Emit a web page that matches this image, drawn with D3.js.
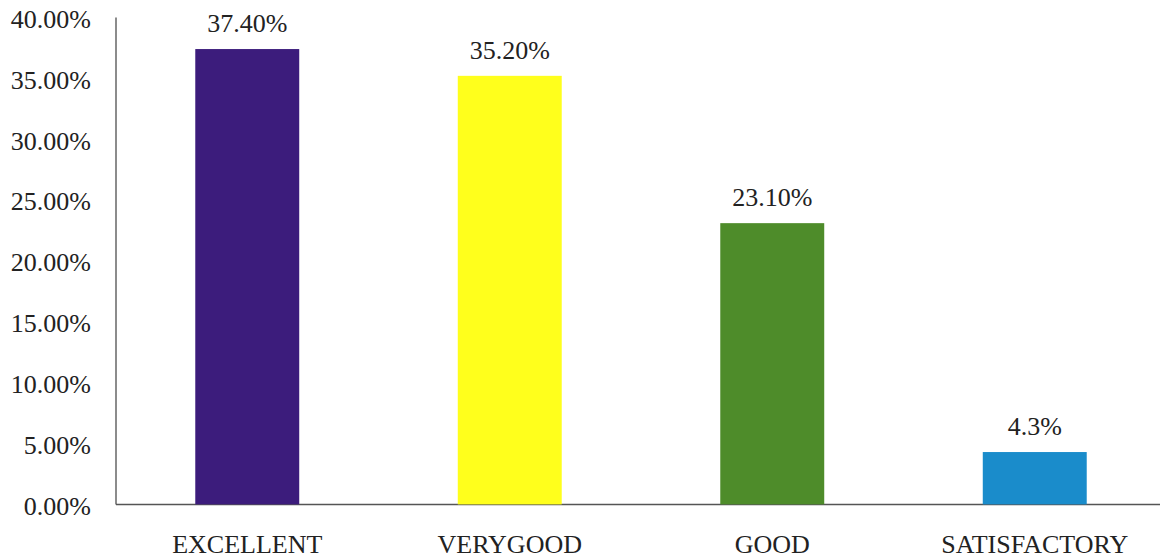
<!DOCTYPE html>
<html>
<head>
<meta charset="utf-8">
<script src="https://cdn.jsdelivr.net/npm/d3@7"></script>
<style>
  html, body { margin: 0; padding: 0; background: #ffffff; }
  svg { display: block; }
  text { font-family: "Liberation Serif", "DejaVu Serif", serif; fill: #222; }
</style>
</head>
<body>
<div id="chart"></div>
<script>
const categories = ["EXCELLENT", "VERYGOOD", "GOOD", "SATISFACTORY"];
const values = [37.4, 35.2, 23.1, 4.3];
const valueLabels = ["37.40%", "35.20%", "23.10%", "4.3%"];
const barColors = ["#3c1c7c", "#ffff1c", "#4e8c2a", "#1a8ccb"];
const yTicks = [0, 5, 10, 15, 20, 25, 30, 35, 40];

const W = 1160, H = 559;
const svg = d3.select("#chart").append("svg").attr("width", W).attr("height", H);

const x = d3.scaleBand().domain(categories).range([116, 1166])
  .paddingInner(0.604).paddingOuter(0.302);
const y = d3.scaleLinear().domain([0, 40]).range([504.4, 17.4]);

// y axis labels
const yAxis = d3.axisLeft(y).tickValues(yTicks).tickSize(0).tickPadding(25)
  .tickFormat(d => d3.format(".2f")(d) + "%");
const gy = svg.append("g").attr("transform", "translate(116,0)").call(yAxis);
gy.select(".domain").remove();
gy.selectAll("text").attr("font-size", 26).attr("dy", "0.38em")
  .style("font-family", '"Liberation Serif", serif').attr("fill", "#222");

// axis lines
svg.append("line").attr("x1", 116).attr("x2", 116).attr("y1", y(40)).attr("y2", y(0))
  .attr("stroke", "#666").attr("stroke-width", 1.5);
svg.append("line").attr("x1", 116).attr("x2", W).attr("y1", y(0)).attr("y2", y(0))
  .attr("stroke", "#555").attr("stroke-width", 1.5);

// bars
svg.selectAll("rect.bar").data(categories).enter().append("rect")
  .attr("class", "bar")
  .attr("x", d => x(d))
  .attr("width", x.bandwidth())
  .attr("y", (d, i) => y(values[i]))
  .attr("height", (d, i) => y(0) - y(values[i]))
  .attr("fill", (d, i) => barColors[i]);

// value labels
svg.selectAll("text.val").data(categories).enter().append("text")
  .attr("class", "val")
  .attr("x", d => x(d) + x.bandwidth() / 2)
  .attr("y", (d, i) => y(values[i]) - 17)
  .attr("text-anchor", "middle")
  .attr("font-size", 26)
  .text((d, i) => valueLabels[i]);

// category labels
const xAxis = d3.axisBottom(x).tickSize(0).tickPadding(0);
const gx = svg.append("g").attr("transform", "translate(0,0)").call(xAxis);
gx.select(".domain").remove();
gx.selectAll("text").attr("y", 553).attr("dy", null).attr("font-size", 26)
  .style("font-family", '"Liberation Serif", serif').attr("fill", "#222");
</script>
</body>
</html>
